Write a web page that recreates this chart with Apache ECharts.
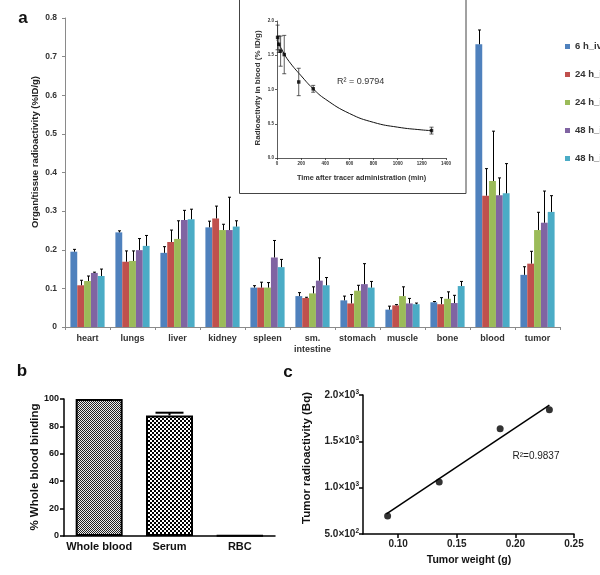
<!DOCTYPE html>
<html>
<head>
<meta charset="utf-8">
<script src="https://cdn.jsdelivr.net/npm/echarts@6/dist/echarts.min.js"></script>
<style>
html,body{margin:0;padding:0;background:#fff;}
#chart{width:600px;height:575px;}
</style>
</head>
<body>
<div id="chart"></div>
<script>
// ---------- Panel a: biodistribution ----------
const organs = ['heart','lungs','liver','kidney','spleen','sm.\nintestine','stomach','muscle','bone','blood','tumor'];
const groupNames = ['6 h_iv','24 h_iv','24 h_ip','48 h_iv','48 h_ip'];
const val6hIv  = [0.195, 0.245, 0.192, 0.258, 0.102, 0.080, 0.069, 0.045, 0.064, 0.732, 0.135];
const err6hIv  = [0.006, 0.004, 0.016, 0.016, 0.005, 0.009, 0.011, 0.009, 0.002, 0.037, 0.021];
const val24hIv = [0.108, 0.169, 0.220, 0.281, 0.102, 0.075, 0.061, 0.056, 0.059, 0.340, 0.164];
const err24hIv = [0.013, 0.028, 0.031, 0.032, 0.014, 0.002, 0.023, 0.002, 0.017, 0.070, 0.032];
const val24hIp = [0.119, 0.171, 0.228, 0.251, 0.102, 0.087, 0.094, 0.080, 0.073, 0.378, 0.251];
const err24hIp = [0.013, 0.026, 0.047, 0.015, 0.013, 0.017, 0.014, 0.024, 0.018, 0.129, 0.046];
const val48hIv = [0.140, 0.199, 0.277, 0.251, 0.180, 0.120, 0.111, 0.061, 0.062, 0.341, 0.270];
const err48hIv = [0.002, 0.030, 0.025, 0.085, 0.044, 0.059, 0.053, 0.013, 0.020, 0.045, 0.082];
const val48hIp = [0.132, 0.210, 0.279, 0.260, 0.155, 0.108, 0.102, 0.059, 0.106, 0.346, 0.298];
const err48hIp = [0.018, 0.027, 0.026, 0.015, 0.020, 0.020, 0.016, 0.003, 0.012, 0.077, 0.042];

// ---------- Inset: blood clearance ----------
const bloodTimes = [5, 15, 30, 60, 180, 300, 1280];
const bloodMeans = [1.76, 1.66, 1.56, 1.51, 1.11, 1.01, 0.40];
const bloodErr   = [0.18, 0.12, 0.22, 0.28, 0.20, 0.05, 0.05];
const fitTimes   = [0, 50, 100, 200, 300, 400, 600, 800, 1000, 1200, 1280];
const fitValues  = [1.72, 1.55, 1.41, 1.20, 1.01, 0.86, 0.65, 0.52, 0.45, 0.41, 0.40];

// ---------- Panel b: blood binding ----------
const bindingCats = ['Whole blood', 'Serum', 'RBC'];
const bindingVals = [100, 88, 0.4];
const bindingErr  = [0, 2, 0];

// ---------- Panel c: tumor weight vs radioactivity ----------
const tumorWeight   = [0.091, 0.135, 0.187, 0.229];
const tumorActivity = [694, 1061, 1637, 1842];
const fitWeight     = [0.090, 0.229];
const fitActivity   = [716, 1892];
const cYTicks = [500, 1000, 1500, 2000];
const cYMant  = ['5.0', '1.0', '1.5', '2.0'];
const cYExp   = ['2', '3', '3', '3'];
const cXTicks = [0.10, 0.15, 0.20, 0.25];

// ---------------------------------------------------------
const FF = '"Liberation Sans", Arial, sans-serif';
const groupColors = ['#4F81BD', '#C0504D', '#9BBB59', '#8064A2', '#4BACC6'];
const groupVals = [val6hIv, val24hIv, val24hIp, val48hIv, val48hIp];
const groupErrs = [err6hIv, err24hIv, err24hIp, err48hIv, err48hIp];

function checker(size, dark, light) {
  const c = document.createElement('canvas');
  c.width = c.height = size * 2;
  const ctx = c.getContext('2d');
  ctx.fillStyle = light; ctx.fillRect(0, 0, size * 2, size * 2);
  ctx.fillStyle = dark;
  ctx.fillRect(0, 0, size, size);
  ctx.fillRect(size, size, size, size);
  return c;
}
const patterns = [
  { image: checker(1, '#222', '#eee'), repeat: 'repeat' },
  { image: checker(2, '#000', '#fff'), repeat: 'repeat' },
  { image: checker(2, '#000', '#fff'), repeat: 'repeat' }
];

const chart = echarts.init(document.getElementById('chart'), null, { renderer: 'canvas' });

const series = [];
groupNames.forEach((name, si) => {
  series.push({
    name, type: 'bar', xAxisIndex: 0, yAxisIndex: 0,
    data: groupVals[si], barGap: '0%', barCategoryGap: '24%',
    itemStyle: { color: groupColors[si] }, z: 2
  });
});
const errData = [];
groupNames.forEach((name, si) => {
  organs.forEach((o, ci) => errData.push([ci, groupVals[si][ci], groupErrs[si][ci], si]));
});
series.push({
  type: 'custom', xAxisIndex: 0, yAxisIndex: 0, z: 5, silent: true,
  data: errData,
  renderItem(params, api) {
    const ci = api.value(0), v = api.value(1), e = api.value(2), si = api.value(3);
    const base = api.coord([ci, v]);
    const top = api.coord([ci, v + e]);
    const band = api.size([1, 0])[0];
    const bw = band * 0.76 / 5;
    const x = Math.round(base[0] + (si - 2) * bw) + 0.5;
    const st = { stroke: '#000', lineWidth: 1 };
    return { type: 'group', children: [
      { type: 'line', shape: { x1: x, y1: base[1], x2: x, y2: top[1] }, style: st },
      { type: 'line', shape: { x1: x - 1.5, y1: top[1], x2: x + 1.5, y2: top[1] }, style: st }
    ]};
  }
});

// inset
series.push({
  type: 'line', xAxisIndex: 1, yAxisIndex: 1, smooth: true, showSymbol: false,
  data: fitTimes.map((t, i) => [t, fitValues[i]]),
  lineStyle: { color: '#111', width: 1 }, z: 3
});
series.push({
  type: 'custom', xAxisIndex: 1, yAxisIndex: 1, z: 4, silent: true,
  data: bloodTimes.map((t, i) => [t, bloodMeans[i], bloodErr[i]]),
  renderItem(params, api) {
    const t = api.value(0), m = api.value(1), e = api.value(2);
    const hi = api.coord([t, m + e]), lo = api.coord([t, m - e]);
    const x = hi[0];
    const st = { stroke: '#333', lineWidth: 0.8 };
    return { type: 'group', children: [
      { type: 'line', shape: { x1: x, y1: hi[1], x2: x, y2: lo[1] }, style: st },
      { type: 'line', shape: { x1: x - 2, y1: hi[1], x2: x + 2, y2: hi[1] }, style: st },
      { type: 'line', shape: { x1: x - 2, y1: lo[1], x2: x + 2, y2: lo[1] }, style: st }
    ]};
  }
});
series.push({
  type: 'scatter', xAxisIndex: 1, yAxisIndex: 1, symbol: 'rect', symbolSize: 3.5,
  data: bloodTimes.map((t, i) => [t, bloodMeans[i]]),
  itemStyle: { color: '#000' }, z: 5
});

// panel b
series.push({
  type: 'bar', xAxisIndex: 2, yAxisIndex: 2, barWidth: 47,
  data: bindingVals.map((v, i) => ({ value: v, itemStyle: { color: patterns[i] } })),
  itemStyle: { borderColor: '#000', borderWidth: 2 }, z: 2
});
series.push({
  type: 'custom', xAxisIndex: 2, yAxisIndex: 2, z: 4, silent: true,
  data: bindingVals.map((v, i) => [i, v, bindingErr[i]]),
  renderItem(params, api) {
    const e = api.value(2);
    if (!(e > 0)) return null;
    const i = api.value(0), v = api.value(1);
    const b = api.coord([i, v]), t = api.coord([i, v + e]);
    const st = { stroke: '#000', lineWidth: 2 };
    return { type: 'group', children: [
      { type: 'line', shape: { x1: b[0], y1: b[1], x2: b[0], y2: t[1] }, style: st },
      { type: 'line', shape: { x1: b[0] - 14, y1: t[1], x2: b[0] + 14, y2: t[1] }, style: st }
    ]};
  }
});

// panel c
series.push({
  type: 'line', xAxisIndex: 3, yAxisIndex: 3, showSymbol: false,
  data: fitWeight.map((w, i) => [w, fitActivity[i]]),
  lineStyle: { color: '#000', width: 1.5 }, z: 3
});
series.push({
  type: 'scatter', xAxisIndex: 3, yAxisIndex: 3, symbolSize: 7,
  data: tumorWeight.map((w, i) => [w, tumorActivity[i]]),
  itemStyle: { color: '#000' }, z: 4
});

const grayAxis = { lineStyle: { color: '#8a8a8a', width: 1 } };

const option = {
  animation: false,
  backgroundColor: '#fff',
  textStyle: { fontFamily: FF },
  legend: {
    data: groupNames, orient: 'vertical', left: 560, top: 36,
    itemWidth: 5, itemHeight: 5, itemGap: 17, icon: 'rect',
    textStyle: { fontSize: 9.5, fontWeight: 'bold', color: '#333', fontFamily: FF, lineHeight: 11 }
  },
  grid: [
    { left: 65, top: 18, width: 495, height: 309 },
    { left: 277, top: 21, width: 169, height: 137 },
    { left: 64, top: 399, width: 211, height: 137 },
    { left: 363, top: 395, width: 211, height: 139 }
  ],
  xAxis: [
    { gridIndex: 0, type: 'category', data: organs,
      axisLine: grayAxis, axisTick: { show: true, length: 3, lineStyle: { color: '#8a8a8a' } },
      axisLabel: { fontSize: 9, fontWeight: 'bold', color: '#333', margin: 6, lineHeight: 11, interval: 0, fontFamily: FF } },
    { gridIndex: 1, type: 'value', min: 0, max: 1400, interval: 200,
      splitLine: { show: false },
      axisLine: { lineStyle: { color: '#333', width: 0.8 } }, axisTick: { length: 2, lineStyle: { color: '#333', width: 0.8 } },
      axisLabel: { fontSize: 4.5, fontWeight: 'bold', color: '#333', margin: 3, fontFamily: FF, formatter: v => String(v) } },
    { gridIndex: 2, type: 'category', data: bindingCats,
      axisLine: { lineStyle: { color: '#000', width: 1.5 } }, axisTick: { show: false },
      axisLabel: { fontSize: 11, fontWeight: 'bold', color: '#111', margin: 5, interval: 0, fontFamily: FF } },
    { gridIndex: 3, type: 'value', min: 0.07, max: 0.25,
      splitLine: { show: false },
      axisLine: { lineStyle: { color: '#000', width: 1.5 } },
      axisTick: { customValues: cXTicks, length: 4, lineStyle: { color: '#000', width: 1.5 } },
      axisLabel: { customValues: cXTicks, fontSize: 10, fontWeight: 'bold', color: '#222', margin: 5, fontFamily: FF,
        formatter: v => v.toFixed(2) } }
  ],
  yAxis: [
    { gridIndex: 0, type: 'value', min: 0, max: 0.8, interval: 0.1,
      splitLine: { show: false },
      axisLine: { show: true, lineStyle: { color: '#8a8a8a' } },
      axisTick: { show: true, length: 3, lineStyle: { color: '#8a8a8a' } },
      axisLabel: { fontSize: 8.5, fontWeight: 'bold', color: '#333', margin: 8, fontFamily: FF,
        formatter: v => v === 0 ? '0' : v.toFixed(1) } },
    { gridIndex: 1, type: 'value', min: 0, max: 2, interval: 0.5,
      splitLine: { show: false },
      axisLine: { show: true, lineStyle: { color: '#333', width: 0.8 } },
      axisTick: { show: true, length: 2, lineStyle: { color: '#333', width: 0.8 } },
      axisLabel: { fontSize: 4.5, fontWeight: 'bold', color: '#333', margin: 3, fontFamily: FF,
        formatter: v => v.toFixed(1) } },
    { gridIndex: 2, type: 'value', min: 0, max: 100, interval: 20,
      splitLine: { show: false },
      axisLine: { show: true, lineStyle: { color: '#000', width: 1.5 } },
      axisTick: { show: true, length: 4, lineStyle: { color: '#000', width: 1.5 } },
      axisLabel: { fontSize: 9, fontWeight: 'bold', color: '#111', margin: 5, fontFamily: FF } },
    { gridIndex: 3, type: 'value', min: 500, max: 2000, interval: 500,
      splitLine: { show: false },
      axisLine: { show: true, lineStyle: { color: '#000', width: 1.5 } },
      axisTick: { show: true, length: 4, lineStyle: { color: '#000', width: 1.5 } },
      axisLabel: { margin: 4, color: '#222', fontFamily: FF,
        formatter: v => { const i = cYTicks.indexOf(v); return '{m|' + cYMant[i] + '×10}{e|' + cYExp[i] + '}'; },
        rich: {
          m: { fontSize: 10, fontWeight: 'bold', color: '#222', fontFamily: FF },
          e: { fontSize: 6.5, fontWeight: 'bold', color: '#222', fontFamily: FF, padding: [0, 0, 6, 0] }
        } } }
  ],
  graphic: [
    { type: 'rect', shape: { x: 239.5, y: -2, width: 226.5, height: 195.5 },
      style: { fill: 'none', stroke: '#444', lineWidth: 1 }, z: 0 },
    { type: 'text', x: 23, y: 18, style: { text: 'a', font: 'bold 17px ' + FF, fill: '#111', align: 'center', verticalAlign: 'middle' } },
    { type: 'text', x: 22, y: 371, style: { text: 'b', font: 'bold 17px ' + FF, fill: '#111', align: 'center', verticalAlign: 'middle' } },
    { type: 'text', x: 288, y: 372, style: { text: 'c', font: 'bold 17px ' + FF, fill: '#111', align: 'center', verticalAlign: 'middle' } },
    { type: 'text', x: 35, y: 152, rotation: Math.PI / 2,
      style: { text: 'Organ/tissue radioactivity (%ID/g)', font: 'bold 9.5px ' + FF, fill: '#222', align: 'center', verticalAlign: 'middle' } },
    { type: 'text', x: 257.5, y: 88, rotation: Math.PI / 2,
      style: { text: 'Radioactivity in blood (% ID/g)', font: 'bold 8px ' + FF, fill: '#333', align: 'center', verticalAlign: 'middle' } },
    { type: 'text', x: 361.5, y: 178,
      style: { text: 'Time after tracer administration (min)', font: 'bold 7.3px ' + FF, fill: '#333', align: 'center', verticalAlign: 'middle' } },
    { type: 'text', x: 337, y: 82,
      style: { text: 'R² = 0.9794', font: '9px ' + FF, fill: '#333', align: 'left', verticalAlign: 'middle' } },
    { type: 'text', x: 34.5, y: 467, rotation: Math.PI / 2,
      style: { text: '% Whole blood binding', font: 'bold 11.5px ' + FF, fill: '#111', align: 'center', verticalAlign: 'middle' } },
    { type: 'text', x: 307, y: 458, rotation: Math.PI / 2,
      style: { text: 'Tumor radioactivity (Bq)', font: 'bold 11.5px ' + FF, fill: '#111', align: 'center', verticalAlign: 'middle' } },
    { type: 'text', x: 469, y: 560,
      style: { text: 'Tumor weight (g)', font: 'bold 10.5px ' + FF, fill: '#111', align: 'center', verticalAlign: 'middle' } },
    { type: 'text', x: 512.5, y: 456,
      style: { text: 'R²=0.9837', font: '10px ' + FF, fill: '#222', align: 'left', verticalAlign: 'middle' } }
  ],
  series
};
chart.setOption(option);
</script>
</body>
</html>
